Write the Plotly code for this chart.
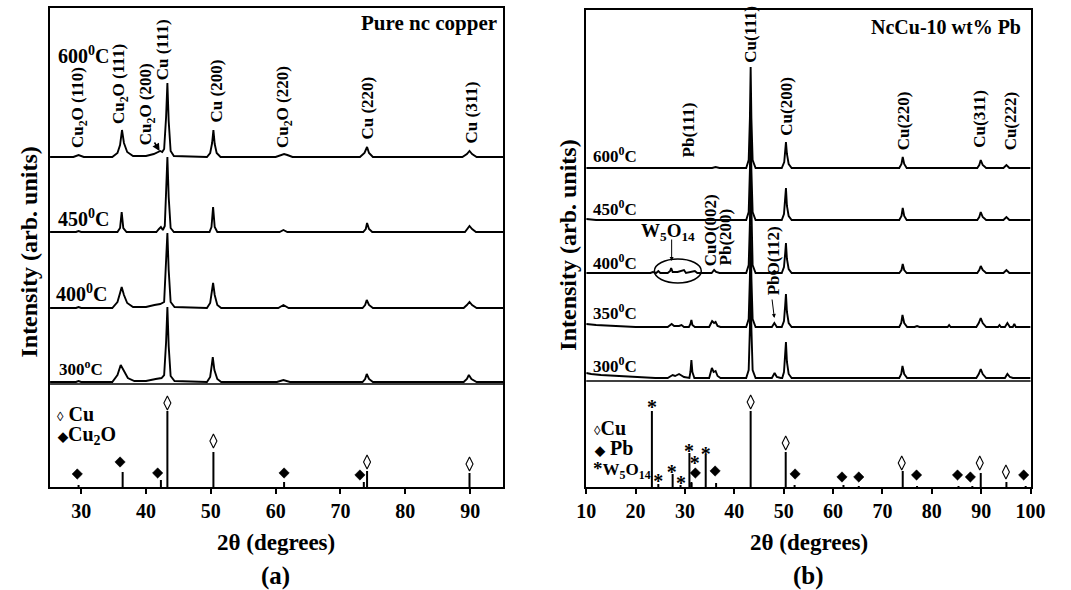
import plotly.graph_objects as go

FONT = "Liberation Serif"

# ================= Panel (a): pure nc copper =================
# (2theta, intensity) points
a600 = [(25.2,0),(28.8,0),(29.6,2),(30.4,0),(34.8,0),(35.6,4),(36.0,12),(36.3,27),(36.6,14),(37.1,5),(38.0,1),
        (40.0,1),(41.2,3),(41.8,5),(42.2,6),(42.5,5),(42.8,8),(43.1,40),(43.3,74),(43.5,36),(43.8,6),(44.3,1),
        (49.4,0),(49.9,4),(50.2,14),(50.4,27),(50.6,13),(50.9,4),(51.5,0),(60.0,0),(60.8,2),(61.3,3),(61.8,2),(62.6,0),
        (73.0,0),(73.7,4),(74.1,10),(74.4,4),(75.0,0),(88.8,0),(89.5,3),(89.9,6),(90.3,3),(91.0,0),(95.1,0)]
a450 = [(25.2,0),(29.2,0),(29.6,1),(30.0,0),(35.6,0),(36.0,4),(36.25,20),(36.5,4),(37.0,0),
        (41.6,0),(42.0,3),(42.3,5),(42.6,2),(42.9,6),(43.1,40),(43.3,75),(43.5,35),(43.8,4),(44.3,0),
        (49.8,0),(50.1,5),(50.35,25),(50.6,5),(51.0,0),(60.6,0),(61.2,2),(61.8,0),
        (73.5,0),(73.9,3),(74.1,9),(74.4,3),(74.9,0),(89.2,0),(89.6,3),(89.9,6),(90.3,3),(90.9,0),(95.1,0)]
a400 = [(25.2,0),(29.2,0),(29.6,1),(30.0,0),(34.8,0),(35.6,6),(36.0,15),(36.25,21),(36.6,13),(37.1,5),(38.0,1),
        (40.0,1),(41.3,3),(42.2,4),(42.8,6),(43.1,40),(43.3,75),(43.5,38),(43.8,6),(44.4,1),
        (49.4,0),(49.9,5),(50.2,17),(50.35,25),(50.6,13),(51.0,3),(51.6,0),(60.4,0),(61.2,3),(62.0,0),
        (73.4,0),(73.8,3),(74.05,8),(74.4,3),(75.0,0),(89.0,0),(89.5,3),(89.9,6),(90.3,3),(91.0,0),(95.1,0)]
a300 = [(25.2,0),(29.2,0),(29.6,1),(30.0,0),(34.8,0),(35.6,7),(36.1,17),(36.6,11),(37.2,4),(38.2,1),
        (40.0,1),(41.5,3),(42.4,4),(42.8,7),(43.1,40),(43.3,75),(43.5,36),(43.8,6),(44.4,1),
        (49.4,0),(49.9,5),(50.15,17),(50.3,25),(50.55,12),(51.0,3),(51.6,0),(60.2,0),(61.2,2),(62.2,0),
        (73.4,0),(73.8,3),(74.05,8),(74.4,3),(75.0,0),(89.0,0),(89.5,3),(89.8,7),(90.2,3),(91.0,0),(95.1,0)]
a_patterns = {"600": a600, "450": a450, "400": a400, "300": a300}

# reference (stick) pattern, panel (a)
a_cu_pos = [43.3, 50.4, 74.1, 89.9]
a_cu_int = [76, 35, 16, 14]
a_cu2o_pos = [29.6, 36.4, 42.3, 61.3, 73.6]
a_cu2o_int = [2, 15, 7, 5, 5]

# ================= Panel (b): NcCu-10 wt% Pb =================
b600 = [(10,0),(35.5,0),(36.2,1),(37,0),(42.4,0),(42.9,8),(43.15,50),(43.3,101),(43.45,50),(43.7,8),(44.3,0),
        (49.6,0),(50.1,6),(50.3,18),(50.45,26),(50.65,14),(51.0,4),(51.6,0),(73.4,0),(73.85,4),(74.1,11),(74.4,4),(74.9,0),
        (89.2,0),(89.6,3),(89.9,8),(90.3,3),(91.0,0),(94.5,0),(95.1,3),(95.7,0),(100,0)]
b450 = [(10,1),(12,0),(42.4,0),(42.9,8),(43.15,50),(43.3,101),(43.45,50),(43.7,8),(44.3,0),
        (49.6,0),(50.05,6),(50.3,22),(50.45,32),(50.65,14),(51.0,4),(51.6,0),(73.4,0),(73.85,4),(74.1,12),(74.4,4),(74.9,0),
        (89.2,0),(89.6,3),(89.9,8),(90.3,3),(91.0,0),(94.5,0),(95.1,3),(95.7,0),(100,0)]
b400 = [(10,0),(23.0,0),(23.5,1),(24.2,0),(24.6,2),(25.0,0),(26.5,0),(27.0,2),(27.2,5),(27.5,1),(28.5,1),(29.8,3),
        (30.2,0),(31.2,1),(32.0,2),(32.5,0),(35.4,0),(35.9,3),(36.3,1),(37.0,0),
        (42.4,0),(42.9,8),(43.15,50),(43.3,101),(43.45,50),(43.7,8),(44.3,0),(47.6,0),(48.1,2),(48.6,0),
        (49.6,0),(50.05,6),(50.3,20),(50.45,30),(50.65,14),(51.0,4),(51.6,0),(73.4,0),(73.85,3),(74.1,9),(74.4,3),(74.9,0),
        (89.2,0),(89.6,3),(89.9,7),(90.3,3),(91.0,0),(94.5,0),(95.1,3),(95.7,0),(100,0)]
b350 = [(10,3),(12,2),(16,1),(20,0),(26.5,0),(27.3,3),(27.8,1),(28.8,1),(29.3,2),(29.8,0),
        (30.8,0),(31.1,3),(31.3,7),(31.5,2),(32.0,0),(34.9,0),(35.3,4),(35.5,6),(35.9,4),(36.2,5),(36.6,1),(37.2,0),
        (42.4,0),(42.9,8),(43.15,50),(43.3,101),(43.45,50),(43.7,8),(44.3,0),(47.6,0),(48.1,4),(48.6,0),
        (49.6,0),(50.05,6),(50.3,22),(50.45,33),(50.65,15),(51.0,4),(51.6,0),(73.4,0),(73.8,4),(74.05,12),(74.4,4),(75.0,0),
        (76.5,0),(77.0,1),(77.5,0),(83.2,0),(83.5,2),(83.8,0),(89.0,0),(89.5,4),(89.9,9),(90.3,4),(91.0,0),
        (93.4,0),(93.7,2),(94.0,0),(94.8,0),(95.3,4),(95.8,0),(96.4,0),(96.7,3),(97.0,0),(100,0)]
b300 = [(10,5),(11,4),(13,3),(16,2),(20,1),(24,0),(26.5,0),(27.5,3),(28.0,2),(28.8,4),(29.8,1),(30.6,0),
        (30.9,0),(31.1,6),(31.3,18),(31.5,6),(31.9,0),(34.9,0),(35.2,5),(35.45,10),(35.8,6),(36.2,7),(36.6,2),(37.2,0),
        (42.4,0),(42.9,8),(43.15,50),(43.3,101),(43.45,50),(43.7,8),(44.3,0),(47.6,0),(48.15,5),(48.6,1),(49.4,0),
        (49.7,0),(50.05,6),(50.3,24),(50.45,36),(50.65,16),(51.0,4),(51.6,0),(73.4,0),(73.8,4),(74.05,12),(74.4,4),(75.0,0),
        (89.0,0),(89.5,4),(89.9,9),(90.3,4),(91.0,0),(94.8,0),(95.3,4),(95.8,1),(96.4,0),(100,0)]
b_patterns = {"600": b600, "450": b450, "400": b400, "350": b350, "300": b300}

b_w5o14_pos = [23.3, 24.6, 27.5, 29.1, 30.9, 31.3, 34.2]
b_w5o14_int = [76, 3, 13, 2, 34, 4, 32]
b_pb_pos = [31.3, 36.3, 52.2, 62.1, 65.2, 77.0, 85.4, 88.2, 99.0]
b_pb_int = [5, 4, 2, 2, 1, 1, 1, 1, 1]
b_cu_pos = [43.3, 50.4, 74.1, 89.9, 95.1]
b_cu_int = [76, 35, 16, 14, 5]

# ================= layout (positions / styles) =================
W, H = 1071, 590
a_offsets = {"600": 330, "450": 255, "400": 179, "300": 105}
b_offsets = {"600": 319, "450": 267, "400": 214, "350": 160, "300": 109}
# symbol positions (x, height) in the reference sections
a_cu_mark = ([43.3, 50.4, 74.1, 89.9], [84, 46, 25, 23])
a_cu2o_mark = ([29.4, 36.0, 41.8, 61.3, 73.0], [13, 25, 14, 14, 12])
b_w_mark = ([23.3, 24.6, 27.3, 29.2, 30.8, 32.0, 34.2], [84, 10, 19, 8, 40, 28, 37])
b_pb_mark = ([32.1, 36.1, 52.3, 61.8, 65.2, 76.9, 85.2, 87.8, 98.6], [14, 16, 13, 10, 10, 12, 12, 10, 12])
b_cu_mark = ([43.3, 50.4, 73.9, 89.7, 95.0], [85, 44, 24, 24, 15])

LW = 1.9
fig = go.Figure()

def add_pattern(pts, off, xa, ya):
    fig.add_trace(go.Scatter(x=[p[0] for p in pts], y=[p[1] + off for p in pts], mode="lines",
                             line=dict(color="black", width=LW), xaxis=xa, yaxis=ya,
                             hoverinfo="skip", showlegend=False))

def add_sticks(pos, inten, xa, ya):
    xs, ys = [], []
    for p, h in zip(pos, inten):
        xs += [p, p, None]
        ys += [0, h, None]
    fig.add_trace(go.Scatter(x=xs, y=ys, mode="lines", line=dict(color="black", width=2),
                             xaxis=xa, yaxis=ya, hoverinfo="skip", showlegend=False))

def add_marks(mk, symbol, xa, ya, size=10, lw=1.2):
    fig.add_trace(go.Scatter(x=mk[0], y=mk[1], mode="markers",
                             marker=dict(symbol=symbol, size=size, color="black",
                                         line=dict(color="black", width=lw)),
                             xaxis=xa, yaxis=ya, hoverinfo="skip", showlegend=False))

def add_stars(mk, xa, ya):
    fig.add_trace(go.Scatter(x=mk[0], y=[v - 6 for v in mk[1]], mode="text", text=["*"] * len(mk[0]),
                             textfont=dict(family=FONT, size=20, color="black", weight="bold"),
                             textposition="middle center",
                             xaxis=xa, yaxis=ya, hoverinfo="skip", showlegend=False))

for k, pts in a_patterns.items():
    add_pattern(pts, a_offsets[k], "x", "y")
add_sticks(a_cu_pos, a_cu_int, "x", "y")
add_sticks(a_cu2o_pos, a_cu2o_int, "x", "y")
add_marks(a_cu_mark, "diamond-tall-open", "x", "y", 10, 1.1)
add_marks(a_cu2o_mark, "diamond", "x", "y", 8, 0.5)

for k, pts in b_patterns.items():
    add_pattern(pts, b_offsets[k], "x2", "y2")
add_sticks(b_w5o14_pos, b_w5o14_int, "x2", "y2")
add_sticks(b_pb_pos, b_pb_int, "x2", "y2")
add_sticks(b_cu_pos, b_cu_int, "x2", "y2")
add_marks(b_cu_mark, "diamond-tall-open", "x2", "y2", 10, 1.1)
add_marks(b_pb_mark, "diamond", "x2", "y2", 8, 0.5)
add_stars(b_w_mark, "x2", "y2")

axis_common = dict(showline=True, linecolor="black", linewidth=1.5, mirror=True, showgrid=False,
                   zeroline=False, ticks="outside", ticklen=5, tickwidth=1.5, tickcolor="black",
                   tickfont=dict(family=FONT, size=20, color="black", weight="bold"))
yaxis_common = dict(showline=True, linecolor="black", linewidth=1.5, mirror=True, showgrid=False,
                    zeroline=False, showticklabels=False, ticks="")

fig.update_layout(
    width=W, height=H, margin=dict(l=0, r=0, t=0, b=0),
    paper_bgcolor="white", plot_bgcolor="white", showlegend=False,
    xaxis=dict(domain=[41 / W, 505 / W], range=[25.2, 95.1], tickvals=[30, 40, 50, 60, 70, 80, 90],
               anchor="y", **axis_common),
    yaxis=dict(domain=[103 / H, 582 / H], range=[0, 479], anchor="x", **yaxis_common),
    xaxis2=dict(domain=[590 / W, 1045 / W], range=[10, 100], tickvals=list(range(10, 101, 10)),
                anchor="y2", **axis_common),
    yaxis2=dict(domain=[103 / H, 580 / H], range=[0, 477], anchor="x2", **yaxis_common),
)

# divider lines between measured and reference patterns
fig.add_shape(type="line", xref="x domain", yref="y", x0=0, x1=1, y0=103, y1=103,
              line=dict(color="black", width=1.5))
fig.add_shape(type="line", xref="x2 domain", yref="y2", x0=0, x1=1, y0=106, y1=106,
              line=dict(color="black", width=1.5))
# ellipse around W5O14 peaks
fig.add_shape(type="circle", xref="x2", yref="y2", x0=23.8, x1=33.3, y0=204, y1=228,
              line=dict(color="black", width=1.5))

def ann(text, x, y, xref, yref, size=13, angle=0, xanchor="center", yanchor="middle", **kw):
    fig.add_annotation(text=text, x=x, y=y, xref=xref, yref=yref, showarrow=False, textangle=angle,
                       xanchor=xanchor, yanchor=yanchor,
                       font=dict(family=FONT, size=size, color="black", weight="bold"), **kw)

# peak labels (a)
a_labels = [("Cu<sub>2</sub>O (110)", 29.6, 337), ("Cu<sub>2</sub>O (111)", 36.0, 361),
            ("Cu<sub>2</sub>O (200)", 40.2, 340), ("Cu (111)", 42.6, 405), ("Cu (200)", 50.8, 362),
            ("Cu<sub>2</sub>O (220)", 61.3, 337), ("Cu (220)", 74.1, 345), ("Cu (311)", 90.2, 342)]
for t, x, y in a_labels:
    ann(t, x, y, "x", "y", size=17, angle=-90, yanchor="bottom")
fig.add_annotation(x=42.1, y=336, xref="x", yref="y", ax=-6, ay=-10, showarrow=True, arrowhead=2,
                   arrowsize=1, arrowwidth=1.5, arrowcolor="black", text="")

# peak labels (b)
b_labels = [("Pb(111)", 30.8, 328), ("Cu(111)", 43.2, 422), ("Cu(200)", 50.5, 349), ("Cu(220)", 74.3, 335),
            ("Cu(311)", 89.7, 337), ("Cu(222)", 96.0, 335), ("CuO(002)", 35.1, 219), ("Pb(200)", 38.3, 220),
            ("PbO(112)", 48.0, 190)]
for t, x, y in b_labels:
    ann(t, x, y, "x2", "y2", size=17, angle=-90, yanchor="bottom")
ann("W<sub>5</sub>O<sub>14</sub>", 26.6, 255, "x2", "y2", size=19)
fig.add_annotation(x=27.3, y=226, xref="x2", yref="y2", axref="x2", ayref="y2", ax=27.3, ay=249,
                   showarrow=True, arrowhead=2, arrowsize=0.8, arrowwidth=1, arrowcolor="black", text="")
fig.add_annotation(x=48.1, y=169, xref="x2", yref="y2", axref="x2", ayref="y2", ax=47.6, ay=189,
                   showarrow=True, arrowhead=2, arrowsize=0.8, arrowwidth=1, arrowcolor="black", text="")

# temperature labels
for t, x, y, s in [("600<sup>0</sup>C", 26.1, 432, 20), ("450<sup>0</sup>C", 26.1, 269, 20),
                   ("400<sup>0</sup>C", 25.8, 194, 20), ("300<sup>o</sup>C", 26.2, 119, 17)]:
    ann(t, x, y, "x", "y", size=s, xanchor="left")
for t, x, y in [("600<sup>0</sup>C", 11.0, 332), ("450<sup>0</sup>C", 11.0, 279), ("400<sup>0</sup>C", 11.0, 225),
                ("350<sup>0</sup>C", 10.9, 175), ("300<sup>0</sup>C", 11.0, 122)]:
    ann(t, x, y, "x2", "y2", size=17, xanchor="left")

# panel titles
ann("Pure nc copper", 94.4, 464, "x", "y", size=21, xanchor="right")
ann("NcCu-10 wt% Pb", 98.4, 460, "x2", "y2", size=20, xanchor="right")

# reference legends
ann("<span style='font-size:13px'>◊</span> Cu", 26.0, 73, "x", "y", size=20, xanchor="left")
ann("<span style='font-size:13px'>◆</span>Cu<sub>2</sub>O", 26.0, 52, "x", "y", size=20, xanchor="left")
ann("<span style='font-size:13px'>◊</span>Cu", 11.2, 59, "x2", "y2", size=20, xanchor="left")
ann("<span style='font-size:13px'>◆</span> Pb", 11.2, 39, "x2", "y2", size=20, xanchor="left")
ann("<span style='font-size:19px'>*</span>W<sub>5</sub>O<sub>14</sub>", 10.9, 17, "x2", "y2", size=17,
    xanchor="left")

# axis titles and panel letters
ann("Intensity (arb. units)", 19 / W, 1 - 252 / H, "paper", "paper", size=24, angle=-90)
ann("Intensity (arb. units)", 571 / W, 1 - 245 / H, "paper", "paper", size=24, angle=-90)
ann("2θ (degrees)", 272 / W, 1 - 542 / H, "paper", "paper", size=23)
ann("2θ (degrees)", 818 / W, 1 - 542 / H, "paper", "paper", size=23)
ann("(a)", 272 / W, 1 - 576 / H, "paper", "paper", size=25)
ann("(b)", 818 / W, 1 - 576 / H, "paper", "paper", size=25)

fig.write_html("out.html")
